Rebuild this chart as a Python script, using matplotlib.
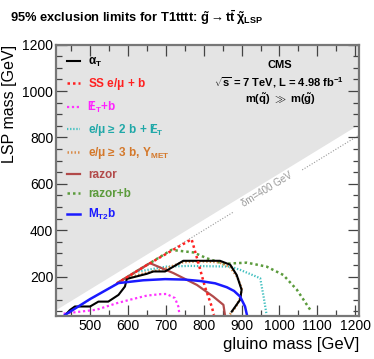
import numpy as np
import matplotlib
matplotlib.use('Agg')
import matplotlib.pyplot as plt
from matplotlib.ticker import MultipleLocator

plt.rcParams['font.family'] = ['Liberation Sans', 'DejaVu Sans']
plt.rcParams['mathtext.fontset'] = 'custom'
plt.rcParams['mathtext.rm'] = 'Liberation Sans:bold'
plt.rcParams['mathtext.it'] = 'Liberation Sans:bold'
plt.rcParams['mathtext.bf'] = 'Liberation Sans:bold'

# exclusion contours (gluino mass, LSP mass) in GeV
alphat_x = [435, 447, 460, 500, 522, 548, 575, 592, 597, 614, 650, 667, 698, 720, 746, 843, 870, 887, 900, 896, 874]
alphat_y = [35, 56, 71, 71, 92, 92, 121, 157, 190, 197, 212, 222, 222, 243, 268, 268, 251, 207, 143, 100, 49]

ss_x = [570, 650, 768, 786, 803, 821, 827]
ss_y = [170, 250, 361, 258, 157, 71, 35]

metb_x = [430, 470, 517, 570, 605, 650, 685, 702, 724, 733, 736]
metb_y = [40, 48, 57, 85, 100, 118, 124, 125, 107, 71, 35]

lep2b_x = [627, 702, 764, 870, 896, 949, 958, 966]
lep2b_y = [222, 243, 246, 243, 229, 193, 114, 35]

lep3b_x = [600, 640, 700, 745, 790, 840, 870, 888, 900, 897, 885, 868]
lep3b_y = [195, 213, 235, 262, 266, 262, 240, 200, 150, 110, 70, 35]

razor_x = [575, 658, 720, 782, 825, 852, 856]
razor_y = [175, 258, 215, 164, 114, 78, 35]

razorb_x = [575, 715, 773, 808, 852, 914, 966, 1010, 1046, 1081]
razorb_y = [175, 315, 304, 279, 255, 260, 243, 207, 143, 57]

mt2b_x = [434, 500, 575, 640, 698, 750, 790, 830, 861, 880, 896, 909, 914]
mt2b_y = [35, 103, 172, 184, 189, 187, 181, 171, 154, 138, 114, 71, 35]

xmin, xmax = 410, 1210
ymin, ymax = 30, 1200
kin_offset = 352   # edge of the grey (kinematically forbidden) region
dm_line = 400

fig = plt.figure(figsize=(3.74, 3.59), dpi=100)
ax = fig.add_axes([0.1497, 0.1198, 0.8103, 0.7557])

# grey forbidden region
gx = np.array([xmin, xmax])
ax.fill_between(gx, gx - kin_offset, ymax, color='#e4e4e4', lw=0, zorder=0)

# dm = 400 GeV line, broken around its label
ax.plot([xmin + 20, 878], [xmin + 20 - dm_line, 878 - dm_line], ls=(0, (1, 1.5)), color='#999999', lw=0.8, zorder=1)
ax.plot([1060, xmax], [1060 - dm_line, xmax - dm_line], ls=(0, (1, 1.5)), color='#999999', lw=0.8, zorder=1)
ax.text(968, 968 - dm_line + 6, 'δm=400 GeV', rotation=31.5, color='#999999', fontsize=7,
        ha='center', va='center', rotation_mode='anchor', zorder=1)

slash_et = r'$\,/\!\!\!E_{T}$'
ax.plot(razorb_x, razorb_y, color='#5b9b3c', ls=(0, (1, 1.2)), lw=1.8, label='razor+b')
ax.plot(lep2b_x, lep2b_y, color='#3fbfbf', ls=(0, (0.6, 0.8)), lw=1.6, label=r'e/$\mu \geq$ 2 b + ' + slash_et)
ax.plot(lep3b_x, lep3b_y, color='#d98c4a', ls=(0, (0.6, 0.8)), lw=1.8, label=r'e/$\mu \geq$ 3 b, Y$_{MET}$')
ax.plot(razor_x, razor_y, color='#b24a4a', lw=1.6, label='razor')
ax.plot(alphat_x, alphat_y, color='black', lw=1.5, label=r'$\alpha_{T}$')
ax.plot(metb_x, metb_y, color='#ff33ff', ls=(0, (1, 1.2)), lw=1.6, label=slash_et + '+b')
ax.plot(ss_x, ss_y, color='#ff2020', ls=(0, (1, 1.2)), lw=1.8, label=r'SS e/$\mu$ + b')
ax.plot(mt2b_x, mt2b_y, color='#1a1aff', lw=1.8, label=r'M$_{T2}$b')

order = [r'$\alpha_{T}$', r'SS e/$\mu$ + b', slash_et + '+b', r'e/$\mu \geq$ 2 b + ' + slash_et,
         r'e/$\mu \geq$ 3 b, Y$_{MET}$', 'razor', 'razor+b', r'M$_{T2}$b']
text_colors = ['black', '#ff2020', '#ff22ff', '#20a8a8', '#d4782a', '#b24a4a', '#5b9b3c', '#1a1aff']
handles, labels = ax.get_legend_handles_labels()
lookup = dict(zip(labels, handles))
leg = ax.legend([lookup[l] for l in order], order, loc='upper left', bbox_to_anchor=(0.0, 1.0),
                frameon=False, handlelength=1.1, handletextpad=0.7,
                labelspacing=0.62, borderaxespad=0.55,
                prop={'weight': 'bold', 'size': 8.5})
for t, c in zip(leg.get_texts(), text_colors):
    t.set_color(c)

ax.text(0.74, 0.925, 'CMS', transform=ax.transAxes, ha='center', va='center', fontsize=8, fontweight='bold')
ax.text(0.735, 0.859, r'$\sqrt{s}$ = 7 TeV, L = 4.98 fb$^{-1}$', transform=ax.transAxes,
        ha='center', va='center', fontsize=8, fontweight='bold')
ax.text(0.74, 0.80, r'm($\tilde{q}$) $\gg$ m($\tilde{g}$)', transform=ax.transAxes,
        ha='center', va='center', fontsize=8, fontweight='bold')

ax.set_xlim(xmin, xmax)
ax.set_ylim(ymin, ymax)
ax.xaxis.set_major_locator(MultipleLocator(100))
ax.xaxis.set_minor_locator(MultipleLocator(50))
ax.yaxis.set_major_locator(MultipleLocator(200))
ax.yaxis.set_minor_locator(MultipleLocator(50))
ax.tick_params(which='both', direction='in', top=True, right=True, colors='#444444', labelcolor='black',
               labelsize=10, pad=2)
ax.tick_params(which='major', length=8, width=0.9)
ax.tick_params(which='minor', length=4, width=0.9)
for s in ax.spines.values():
    s.set_color('#777777')
    s.set_linewidth(1.6)

ax.set_xlabel('gluino mass [GeV]', fontsize=12, loc='right', labelpad=3)
ax.set_ylabel('LSP mass [GeV]', fontsize=11.5, loc='top', labelpad=4)

fig.text(0.027, 0.952, r'95% exclusion limits for T1tttt: $\tilde{g} \rightarrow t\bar{t}\,\tilde{\chi}_{LSP}$',
         fontsize=9.3, fontweight='bold', ha='left', va='center')

fig.savefig('out.png', dpi=100)
